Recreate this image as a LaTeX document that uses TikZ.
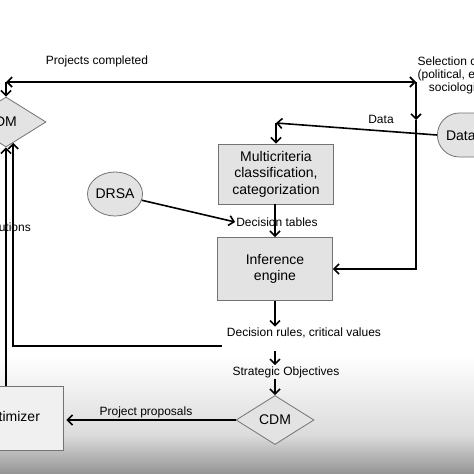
\documentclass[tikz,border=0pt]{standalone}
\usepackage{fontspec}
\setmainfont{Liberation Sans}
\usetikzlibrary{shapes.geometric,shapes.misc,arrows.meta,calc}

\begin{document}
\begin{tikzpicture}[x=1pt,y=-1pt,
    >={Straight Barb[length=5pt,width=10pt]},
    line/.style={line width=1.6pt},
    box/.style={draw=black!55,fill=black!11,line width=0.8pt,align=center,font=\fontsize{14}{16.5}\selectfont},
    lbl/.style={inner sep=1pt,align=center,font=\fontsize{12}{13}\selectfont}]
    \useasboundingbox (0,0) rectangle (474,474);
    \fill[white] (0,0) rectangle (474,474);
    \shade[top color=white,bottom color=black!14] (0,355) rectangle (474,435);
    \shade[top color=black!14,bottom color=black!42] (0,435) rectangle (474,474);
    \clip (0,0) rectangle (474,474);

    \node[box,diamond,minimum width=80pt,minimum height=50pt,inner sep=0pt] (dm) at (6,122) {DM};
    \node[box,diamond,minimum width=78pt,minimum height=49pt,inner sep=0pt] (cdm) at (275,420) {CDM};
    \node[box,fill=black!6,minimum width=106pt,minimum height=64pt] (opt) at (10,418) {Optimizer};
    \node[box,minimum width=115pt,minimum height=60pt] (multi) at (276,174) {Multicriteria\\classification,\\categorization};
    \node[box,minimum width=115pt,minimum height=63pt] (infer) at (275,269) {Inference\\engine};
    \node[box,ellipse,minimum width=49pt,minimum height=44pt,inner sep=0pt] (drsa) at (115,194) {DRSA};
    \node[box,rounded rectangle,minimum height=44pt,inner xsep=8pt,anchor=west] (data) at (437,135) {Database};

    \node[lbl] (proj) at (97,61) {Projects completed};
    \node[lbl] (sel) at (462,75) {Selection criteria\\(political, ethical,\\sociological)};
    \node[lbl] (dlbl) at (381,119) {Data};
    \node[lbl] (dtab) at (277,222) {Decision tables};
    \node[lbl] (rules) at (304,333) {Decision rules, critical values};
    \node[lbl] (strat) at (286,372) {Strategic Objectives};
    \node[lbl] (prop) at (146,412) {Project proposals};
    \node[lbl,anchor=east] (sol) at (32,227) {Solutions};

    \coordinate (tl) at (6,82);
    \coordinate (tr) at (416,82);
    \coordinate (sd) at (416,120);
    \coordinate (dc) at (276,123);
    \coordinate (r1) at (222,346);
    \coordinate (dmb) at ($(dm.south)!0.18!(dm.east)$);

    \draw[line,<->] (tl) -- (tr);
    \draw[line,->] (tl) -- (dm.north);
    \draw[line,->] (tr) -- (sd);
    \draw[line,->] (sd) |- (infer.east);
    \draw[line,->] (data.west) -- (dc);
    \draw[line,->] (dc) -- (multi.north);
    \draw[line,->] (infer.north |- multi.south) -- (infer.north);
    \draw[line,->] (drsa) -- (dtab.west);
    \draw[line,->] (infer.south) -- (infer.south |- rules.north);
    \draw[line,->,shorten <=12pt] (infer.south |- rules.south) -- (infer.south |- strat.north);
    \draw[line,->] (cdm.north |- strat.south) -- (cdm.north);
    \draw[line,->,shorten >=3pt] (cdm.west) -- (cdm.west -| opt.east);
    \draw[line,->] (opt.north -| dm.south) -- (dm.south);
    \draw[line,->] (r1) -| (dmb);
\end{tikzpicture}
\end{document}
